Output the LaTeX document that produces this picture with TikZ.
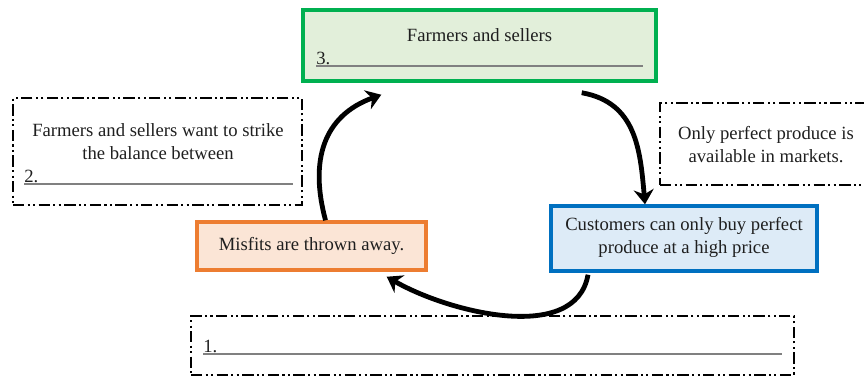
\documentclass[tikz,border=0pt]{standalone}
\usepackage{fontspec}
\setmainfont{Liberation Serif}
\usetikzlibrary{arrows.meta,calc}
\definecolor{boxgreen}{HTML}{00B050}
\definecolor{fillgreen}{HTML}{E2EFDA}
\definecolor{boxblue}{HTML}{0070C0}
\definecolor{fillblue}{HTML}{DDEBF7}
\definecolor{boxorange}{HTML}{ED7D31}
\definecolor{fillorange}{HTML}{FBE5D6}
\definecolor{inkgray}{HTML}{1F1F1F}

\begin{document}
\begin{tikzpicture}[x=0.75pt,y=-0.75pt,
 font=\fontsize{14}{17.3}\selectfont,text=inkgray,
 box/.style={draw,line width=2.6pt,inner sep=0pt},
 ddbox/.style={draw,line width=2pt,inner sep=0pt,
  dash pattern=on 8.5pt off 2.5pt on 1.6pt off 2.5pt on 1.6pt off 2.5pt},
 txt/.style={align=center,inner sep=0pt},
 blank/.style={draw=gray,line width=0.9pt},
 arr/.style={line width=3.6pt,-{Stealth[length=11pt,width=15pt]}}]
\useasboundingbox (0,0) rectangle (864,376);
\clip (0,0) rectangle (864,376);
% boxes
\node[box,draw=boxgreen,fill=fillgreen,minimum width=264.75pt,minimum height=53.25pt] (farmers) at (479.5,45.5) {};
\node[ddbox,minimum width=216.75pt,minimum height=80.25pt] (balance) at (157.5,151.5) {};
\node[ddbox,minimum width=162pt,minimum height=61.5pt] (perfect) at (768,144) {};
\node[box,draw=boxblue,fill=fillblue,minimum width=199.5pt,minimum height=48.75pt] (customers) at (684,238.5) {};
\node[box,draw=boxorange,fill=fillorange,minimum width=171.75pt,minimum height=36pt] (misfits) at (311.5,246) {};
\node[ddbox,minimum width=452.25pt,minimum height=44.25pt] (answer) at (492.5,345.5) {};
% texts
\node[txt] (farmtxt) at (479.5,35) {Farmers and sellers};
\node[txt,anchor=base west] (farmno) at (316,64) {3.};
\draw[blank] ([yshift=-1.5pt]farmno.base west) -- ++(327,0);
\node[txt] (baltxt) at (158,141.5) {Farmers and sellers want to strike\\the balance between};
\node[txt,anchor=base west] (balno) at (24,182) {2.};
\draw[blank] ([yshift=-1.5pt]balno.base west) -- ++(269,0);
\node[txt] (perftxt) at (766,145) {Only perfect produce is\\available in markets.};
\node[txt] (custtxt) at (684,237.5) {Customers can only buy perfect\\produce at a high price};
\node[txt] (mistxt) at (311.5,246) {Misfits are thrown away.};
\node[txt,anchor=base west] (ansno) at (203,352) {1.};
\draw[blank] ([yshift=-1.5pt]ansno.base west) -- ++(579,0);
% cycle
\draw[arr] ($(misfits.north)+(14,0)$) to[out=105,in=200,looseness=1.15] ($(farmers.south west)+(80,12)$);
\draw[arr] ($(farmers.south east)+(-76,10)$) to[out=-10,in=95,looseness=1.1] ($(customers.north)+(-39,0)$);
\draw[arr] ($(customers.south)+(-96,2)$) to[out=-100,in=-30,looseness=0.9] ($(misfits.south east)+(-41,5)$);
\end{tikzpicture}
\end{document}
